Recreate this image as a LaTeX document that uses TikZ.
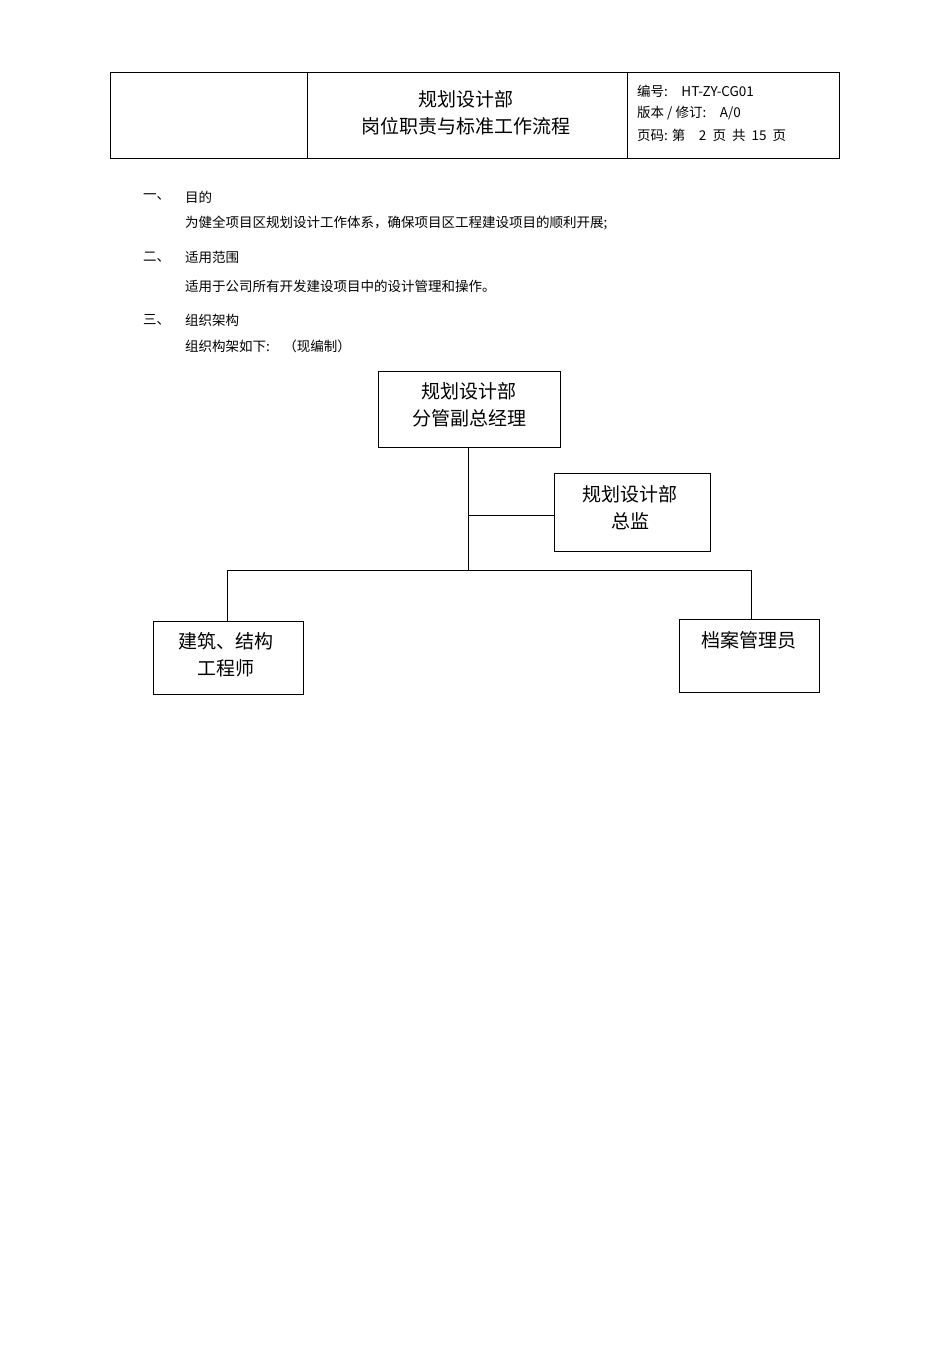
\documentclass[tikz,border=0pt]{standalone}
\usepackage{fontspec}
\setmainfont{Liberation Sans}
\newfontfamily\cjk{Noto Sans CJK SC}
\begin{document}
\begin{tikzpicture}[x=1pt,y=-1pt,
  bx/.style={draw,line width=1pt},
  big/.style={font=\cjk\fontsize{19}{27}\selectfont,align=center},
  sm/.style={font=\cjk\fontsize{13.5}{16}\selectfont,anchor=west,inner sep=0pt},
  ln/.style={line width=0.9pt}]
\useasboundingbox (0,0) rectangle (950,1345);
% header
\draw[line width=0.9pt] (110,72) rectangle (839,158);
\draw[line width=0.9pt] (307,72) -- (307,158) (627,72) -- (627,158);
\node[big] (title) at (466,113) {规划设计部\\岗位职责与标准工作流程};
\node[sm] (h1) at (637,91) {编号:\quad HT-ZY-CG01};
\node[sm] (h2) at (637,113) {版本 / 修订:\quad A/0};
\node[sm] (h3) at (637,135) {页码: 第\quad 2\ \ 页\ \ 共\ \ 15\ \ 页};
% body text
\node[sm] (n1) at (143,197) {一、};
\node[sm] (t1) at (185,197) {目的};
\node[sm] (t1b) at (185,223) {为健全项目区规划设计工作体系，确保项目区工程建设项目的顺利开展;};
\node[sm] (n2) at (143,257) {二、};
\node[sm] (t2) at (185,257) {适用范围};
\node[sm] (t2b) at (185,286) {适用于公司所有开发建设项目中的设计管理和操作。};
\node[sm] (n3) at (143,320) {三、};
\node[sm] (t3) at (185,320) {组织架构};
\node[sm] (t3b) at (185,346) {组织构架如下:\quad（现编制）};
% boxes
\draw[bx] (378,371) rectangle (560,447);
\node[big] (A) at (469,405) {规划设计部\\分管副总经理};
\draw[bx] (554,473) rectangle (710,551);
\node[big] (B) at (630,508) {规划设计部\\总监};
\draw[bx] (153,621) rectangle (303,694);
\node[big] (C) at (226,655) {建筑、结构\\工程师};
\draw[bx] (679,619) rectangle (819,692);
\node[big] (D) at (749,640) {档案管理员};
\coordinate (a) at (468,447);
\coordinate (j) at (468,570);
\coordinate (m) at (468,515);
\coordinate (b) at (554,515);
\coordinate (l) at (227,570);
\coordinate (r) at (751,570);
\coordinate (c) at (227,621);
\coordinate (d) at (751,619);
\draw[ln] (a) -- (j);
\draw[ln] (m) -- (b);
\draw[ln] (l) -- (r);
\draw[ln] (l) -- (c);
\draw[ln] (r) -- (d);
\end{tikzpicture}
\end{document}
